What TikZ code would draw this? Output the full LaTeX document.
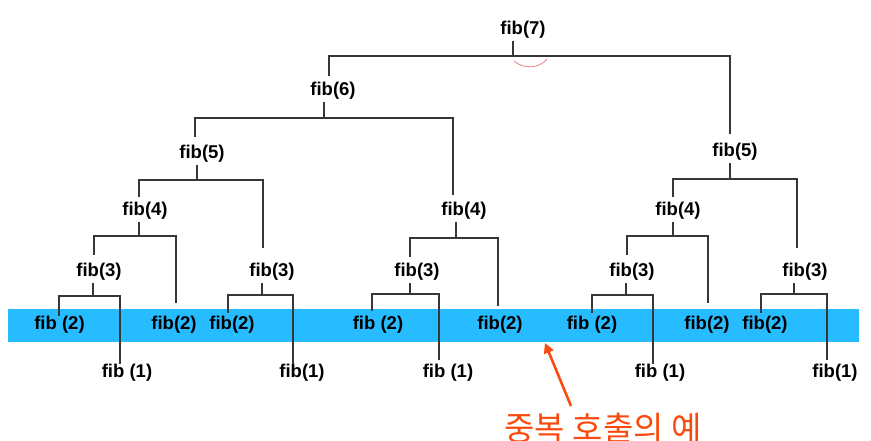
\documentclass[tikz,border=0pt]{standalone}
\usepackage{fontspec}
\setmainfont{Liberation Sans}
\newfontfamily\kofont{Noto Sans CJK KR}
\usetikzlibrary{arrows.meta}
\definecolor{bandc}{RGB}{38,188,255}
\definecolor{linec}{RGB}{55,55,55}
\definecolor{notec}{RGB}{250,75,15}
\definecolor{arcred}{RGB}{235,130,130}
\tikzset{
  fn/.style={inner sep=0pt, text=black, font=\fontsize{18.5}{21}\selectfont\bfseries},
  link/.style={draw=linec, line width=1.3pt, shorten <=3pt},
}
\newcommand\tlink[6]{%
  \path (#2,0) coordinate (tA) (#5,0) coordinate (tB);
  \draw[link,shorten >=#6pt] (#1.south -| tA) |- (#5,#3) -- (#4.north -| tB);}
\begin{document}
\begin{tikzpicture}[x=1pt,y=-1pt]
\useasboundingbox (0,0) rectangle (871,440);
\fill[bandc] (8,309) rectangle (859,342);
% internal nodes
\node[fn] (n7) at (523,29.5) {fib(7)};
\node[fn] (n6) at (333,90.5) {fib(6)};
\node[fn] (n5a) at (202,153.5) {fib(5)};
\node[fn] (n5b) at (735,151.5) {fib(5)};
\node[fn] (n4a) at (145,210.5) {fib(4)};
\node[fn] (n4b) at (464,210.5) {fib(4)};
\node[fn] (n4c) at (678,210.5) {fib(4)};
\node[fn] (n3a) at (99,271.5) {fib(3)};
\node[fn] (n3b) at (272,271.5) {fib(3)};
\node[fn] (n3c) at (417,271.5) {fib(3)};
\node[fn] (n3d) at (632,271.5) {fib(3)};
\node[fn] (n3e) at (805,271.5) {fib(3)};
% leaves
\node[fn] (l2a) at (59.5,324.5) {fib (2)};
\node[fn] (l1a) at (127,372.5) {fib (1)};
\node[fn] (l2b) at (174,324.5) {fib(2)};
\node[fn] (l2c) at (232,324.5) {fib(2)};
\node[fn] (l1b) at (302,372.5) {fib(1)};
\node[fn] (l2d) at (378,325) {fib (2)};
\node[fn] (l1c) at (448,372.5) {fib (1)};
\node[fn] (l2e) at (500,325) {fib(2)};
\node[fn] (l2f) at (592,324.5) {fib (2)};
\node[fn] (l1d) at (660,372.5) {fib (1)};
\node[fn] (l2g) at (707,324.5) {fib(2)};
\node[fn] (l2h) at (765,324.5) {fib(2)};
\node[fn] (l1e) at (835,372.5) {fib(1)};
% connectors: parent, parent x, bar y, child, child x, end gap
\tlink{n7}{513}{56}{n6}{329}{6}
\tlink{n7}{513}{56}{n5b}{730}{9}
\tlink{n6}{324}{118}{n5a}{195}{8}
\tlink{n6}{324}{118}{n4b}{453}{7}
\tlink{n5a}{197}{180}{n4a}{139}{5}
\tlink{n5a}{197}{180}{n3b}{263}{15}
\tlink{n4a}{139}{236}{n3a}{94}{8}
\tlink{n4a}{139}{236}{l2b}{176}{13}
\tlink{n3a}{93}{296}{l2a}{59}{0}
\tlink{n3a}{93}{296}{l1a}{120}{0}
\tlink{n3b}{262}{295}{l2c}{228}{3}
\tlink{n3b}{262}{295}{l1b}{293}{0}
\tlink{n4b}{456}{238}{n3c}{410}{6}
\tlink{n4b}{456}{238}{l2e}{498}{10}
\tlink{n3c}{410}{294}{l2d}{372}{5}
\tlink{n3c}{410}{294}{l1c}{439}{4}
\tlink{n5b}{730}{179}{n4c}{673}{5}
\tlink{n5b}{730}{179}{n3e}{797}{15}
\tlink{n4c}{673}{236}{n3d}{627}{8}
\tlink{n4c}{673}{236}{l2g}{708}{13}
\tlink{n3d}{626}{295}{l2f}{592}{3}
\tlink{n3d}{626}{295}{l1d}{653}{0}
\tlink{n3e}{794}{294}{l2h}{761}{3}
\tlink{n3e}{794}{294}{l1e}{827}{4}
% red mark under fib(7)
\draw[arcred, line width=0.8pt] (514,61) .. controls (523,69) and (539,69) .. (547,59);
% annotation
\node[text=notec, inner sep=0pt, anchor=base, font=\kofont\fontsize{33}{35}\selectfont] (ex) at (603,440) {중복 호출의 예};
\coordinate (arTail) at (571,406);
\coordinate (arTip) at (545,343);
\draw[notec, line width=2.6pt, -{Triangle[length=10pt,width=10pt]}] (arTail) -- (arTip);
\end{tikzpicture}
\end{document}
